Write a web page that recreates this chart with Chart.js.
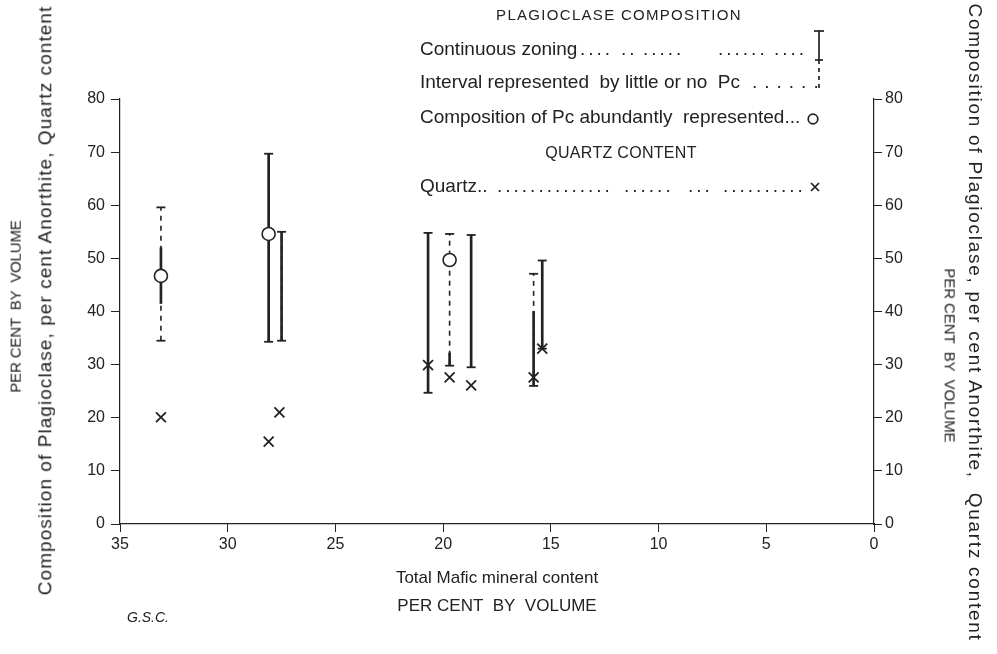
<!DOCTYPE html>
<html>
<head>
<meta charset="utf-8">
<script src="https://cdn.jsdelivr.net/npm/chart.js@4/dist/chart.umd.min.js"></script>
<style>
  html, body { margin: 0; padding: 0; background: #fff; }
  #wrap { position: relative; width: 997px; height: 654px; font-family: "Liberation Sans", Arial, sans-serif; color: #222; overflow: hidden; }
  #chart { position: absolute; left: 0; top: 0; }
  .row { position: absolute; left: 0; width: 997px; height: 22px; font-size: 19px; line-height: 1; }
  .row span { position: absolute; white-space: pre; }
  .row .dots { letter-spacing: 3px; }
  .hd { position: absolute; font-size: 16px; line-height: 1; white-space: pre; transform: translateX(-50%); }
  .vt { position: absolute; line-height: 1; white-space: pre; }
  #gsc { position: absolute; left: 127px; top: 609px; font-size: 14px; font-style: italic; }
  #keys { position: absolute; left: 0; top: 0; pointer-events: none; }
</style>
</head>
<body>
<div id="wrap">
  <canvas id="chart" width="997" height="654"></canvas>
  <div class="hd" style="left:619px; top:7px; font-size:15px; letter-spacing:1.3px;">PLAGIOCLASE COMPOSITION</div>
  <div class="row" style="top:39px;">
    <span style="left:420px;">Continuous zoning</span>
    <span class="dots" style="left:580px;">....</span>
    <span class="dots" style="left:621px;">..</span>
    <span class="dots" style="left:643px;">.....</span>
    <span class="dots" style="left:718px;">......</span>
    <span class="dots" style="left:774px;">....</span>
  </div>
  <div class="row" style="top:72px;">
    <span style="left:420px;">Interval represented  by little or no  Pc</span>
    <span class="dots" style="left:752px; letter-spacing:7px;">......</span>
  </div>
  <div class="row" style="top:107px;">
    <span style="left:420px;">Composition of Pc abundantly  represented...</span>
  </div>
  <div class="hd" style="left:621px; top:145px; letter-spacing:0.3px;">QUARTZ CONTENT</div>
  <div class="row" style="top:176px;">
    <span style="left:420px;">Quartz..</span>
    <span class="dots" style="left:497px;">..............</span>
    <span class="dots" style="left:624px;">......</span>
    <span class="dots" style="left:688px;">...</span>
    <span class="dots" style="left:723px;">..........</span>
  </div>
  <div class="vt" style="font-size:15px;" data-cx="15" data-cy="306" data-len="172" data-rot="-90">PER CENT  BY  VOLUME</div>
  <div class="vt" style="font-size:19px;" data-cx="45" data-cy="300" data-len="590" data-rot="-90">Composition of Plagioclase, per cent Anorthite, Quartz content</div>
  <div class="vt" style="font-size:15px;" data-cx="950" data-cy="355" data-len="174" data-rot="90">PER CENT  BY  VOLUME</div>
  <div class="vt" style="font-size:19px;" data-cx="975" data-cy="322" data-len="638" data-rot="90">Composition of Plagioclase, per cent Anorthite,  Quartz content</div>
  <svg id="keys" width="997" height="654">
    <g stroke="#222" stroke-width="1.7" fill="none">
      <line x1="814" y1="31" x2="824" y2="31"/>
      <line x1="819" y1="31" x2="819" y2="60"/>
      <line x1="815" y1="60" x2="823" y2="60"/>
      <line x1="819" y1="60" x2="819" y2="90" stroke-dasharray="4 4"/>
      <circle cx="813" cy="119" r="4.8" fill="#fff"/>
      <line x1="811" y1="183" x2="819" y2="191"/>
      <line x1="819" y1="183" x2="811" y2="191"/>
    </g>
  </svg>
  <div id="gsc">G.S.C.</div>
</div>
<script>
// total mafic mineral content (per cent) of each sample bar
const maficX = [33.1, 28.1, 27.5, 20.7, 19.7, 18.7, 15.8, 15.4];
// full plagioclase range (per cent An)
const rangeTop = [59.6, 69.7, 55.0, 54.8, 54.6, 54.4, 47.1, 49.6];
const rangeBottom = [34.5, 34.3, 34.5, 24.7, 29.8, 29.5, 26.0, 33.0];
// continuous zoning part of the range (the rest is dashed)
const zoningFrom = [41.5, 34.3, 34.5, 24.7, 29.8, 29.5, 26.0, 33.0];
const zoningTo = [52.0, 69.7, 55.0, 54.8, 32.2, 54.4, 40.0, 49.6];
// composition of Pc abundantly represented
const pcX = [33.1, 28.1, 19.7];
const pcAn = [46.7, 54.6, 49.7];
// quartz content
const quartzX = [33.1, 28.1, 27.6, 20.7, 19.7, 18.7, 15.8, 15.4];
const quartzY = [20.1, 15.5, 21.0, 29.9, 27.6, 26.1, 27.6, 33.0];

const xTicks = [35, 30, 25, 20, 15, 10, 5, 0];
const yTicks = [0, 10, 20, 30, 40, 50, 60, 70, 80];

const INK = '#222';

// rotated side titles, spread out to the length they have in the scan
document.querySelectorAll('.vt').forEach(el => {
  const chars = el.textContent.length;
  const spread = (Number(el.dataset.len) - el.offsetWidth) / chars;
  el.style.letterSpacing = spread.toFixed(2) + 'px';
  const w = el.offsetWidth;
  const h = el.offsetHeight;
  el.style.left = (Number(el.dataset.cx) - w / 2) + 'px';
  el.style.top = (Number(el.dataset.cy) - h / 2) + 'px';
  el.style.transform = 'rotate(' + el.dataset.rot + 'deg)';
});

const dashedBars = maficX.map((x, i) => ({
  label: 'Interval represented by little or no Pc',
  data: [{ x, y: rangeBottom[i] }, { x, y: rangeTop[i] }],
  showLine: true,
  borderColor: INK,
  borderWidth: 1.6,
  borderDash: [5, 5],
  pointRadius: 0,
  order: 4,
}));

const capPoints = maficX.flatMap((x, i) => [{ x, y: rangeTop[i] }, { x, y: rangeBottom[i] }]);

function fixedSize(prop, size) {
  return axis => { axis[prop] = size; };
}

function tickSetter(values) {
  return axis => { axis.ticks = values.map(value => ({ value })); };
}

const tickFont = { family: '"Liberation Sans", Arial, sans-serif', size: 16 };

new Chart(document.getElementById('chart'), {
  type: 'scatter',
  data: {
    datasets: [
      {
        label: 'Composition of Pc',
        data: pcX.map((x, i) => ({ x, y: pcAn[i] })),
        pointStyle: 'circle',
        pointRadius: 6.5,
        pointBackgroundColor: '#fff',
        pointBorderColor: INK,
        pointBorderWidth: 1.6,
        order: 0,
      },
      {
        label: 'Quartz',
        data: quartzX.map((x, i) => ({ x, y: quartzY[i] })),
        pointStyle: 'crossRot',
        pointRadius: 7,
        pointBorderColor: INK,
        pointBorderWidth: 1.8,
        order: 1,
      },
      {
        label: 'caps',
        data: capPoints,
        pointStyle: 'line',
        pointRadius: 4.5,
        pointBorderColor: INK,
        pointBorderWidth: 1.8,
        order: 2,
      },
      {
        type: 'bar',
        label: 'Continuous zoning',
        data: maficX.map((x, i) => ({ x, y: [zoningFrom[i], zoningTo[i]] })),
        backgroundColor: INK,
        borderWidth: 0,
        barThickness: 2,
        grouped: false,
        order: 3,
      },
      ...dashedBars,
    ],
  },
  options: {
    responsive: false,
    animation: false,
    layout: { padding: { top: 99, left: 0, right: 0, bottom: 0 } },
    plugins: {
      legend: { display: false },
      tooltip: { enabled: false },
    },
    scales: {
      x: {
        type: 'linear',
        reverse: true,
        offset: false,
        min: 0,
        max: 35,
        afterFit: fixedSize('height', 130),
        afterBuildTicks: tickSetter(xTicks),
        border: { color: INK, width: 1.2 },
        grid: { drawOnChartArea: false, offset: false, tickLength: 8, color: INK },
        ticks: { color: INK, font: tickFont, padding: 3, maxRotation: 0 },
        title: {
          display: true,
          text: ['Total Mafic mineral content', 'PER CENT  BY  VOLUME'],
          color: INK,
          font: { family: '"Liberation Sans", Arial, sans-serif', size: 17, lineHeight: '28px' },
          padding: { top: 0, bottom: 34 },
        },
      },
      y: {
        type: 'linear',
        position: 'left',
        min: 0,
        max: 80,
        afterFit: fixedSize('width', 120),
        afterBuildTicks: tickSetter(yTicks),
        border: { color: INK, width: 1.2 },
        grid: { drawOnChartArea: false, tickLength: 9, color: INK },
        ticks: { color: INK, font: tickFont, padding: 6 },
      },
      y2: {
        type: 'linear',
        position: 'right',
        min: 0,
        max: 80,
        afterFit: fixedSize('width', 123),
        afterBuildTicks: tickSetter(yTicks),
        border: { color: INK, width: 1.2 },
        grid: { drawOnChartArea: false, tickLength: 8, color: INK },
        ticks: { color: INK, font: tickFont, padding: 3 },
      },
    },
  },
});
</script>
</body>
</html>
